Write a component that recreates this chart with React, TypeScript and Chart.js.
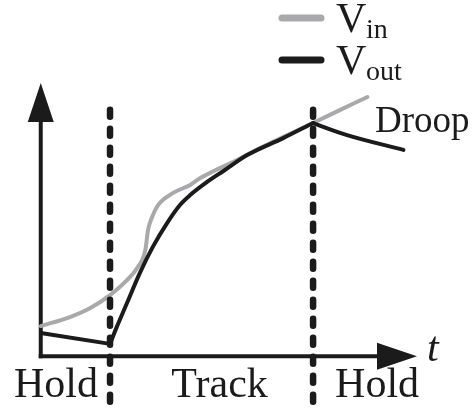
import React, { useEffect, useRef } from "react";
import { Chart, registerables } from "chart.js";

Chart.register(...registerables);

// ---- data (t in arbitrary time units, V in arbitrary volts) ----
const vinT = [0, 0.43, 0.73, 1.02, 1.27, 1.42, 1.54, 1.58, 1.64, 1.73, 1.95, 2.2, 2.35, 2.89, 3.23, 4.01, 4.41, 4.81];
const vinV = [1.1, 1.43, 1.76, 2.23, 2.78, 3.22, 3.88, 4.61, 5.08, 5.52, 5.96, 6.25, 6.5, 7.16, 7.6, 8.51, 8.99, 9.46];

const voutHoldT = [0, 1.02];
const voutHoldV = [0.85, 0.45];
const voutTrackT = [1.02, 1.12, 1.27, 1.46, 1.65, 1.86, 2.05, 2.2, 2.45, 2.69, 3.04, 3.57, 4.01];
const voutTrackV = [0.45, 1.07, 1.94, 3.04, 3.99, 4.86, 5.52, 5.88, 6.36, 6.76, 7.34, 7.96, 8.51];
const voutDroopT = [4.01, 4.16, 4.51, 5.34];
const voutDroopV = [8.51, 8.37, 8.07, 7.53];

const boundaries = [1.02, 4.01];
const boundaryTop = 8.99;
const boundaryBottom = -1.67;
const phaseLabels = ["Hold", "Track", "Hold"];
const legendMain = ["V", "V"];
const legendSub = ["in", "out"];
const timeAxisEnd = 5.54;
const voltAxisTop = 9.97;
const timeLabel = "t";
const droopLabel = "Droop";

const INK = "#1b1b1b";
const GRAY = "#a9a9ab";
const SERIF = '"Liberation Serif"';

const pts = (ts: number[], vs: number[]) => ts.map((t, i) => ({ x: t, y: vs[i] }));

const sketchPlugin = {
  id: "sketch",
  beforeDraw(chart: any) {
    const { ctx, width, height } = chart;
    ctx.save();
    ctx.fillStyle = "#ffffff";
    ctx.fillRect(0, 0, width, height);
    ctx.restore();
  },
  beforeDatasetsDraw(chart: any) {
    const { ctx, scales } = chart;
    const x = scales.x, y = scales.y;
    const x0 = x.getPixelForValue(0);
    const y0 = y.getPixelForValue(0);
    const xEnd = x.getPixelForValue(timeAxisEnd);
    const yTop = y.getPixelForValue(voltAxisTop);
    ctx.save();
    ctx.strokeStyle = INK;
    ctx.fillStyle = INK;
    ctx.lineWidth = 4;
    ctx.lineCap = "butt";
    ctx.beginPath();
    ctx.moveTo(x0, y0 + 2);
    ctx.lineTo(x0, yTop + 30);
    ctx.stroke();
    ctx.beginPath();
    ctx.moveTo(x0 - 2, y0);
    ctx.lineTo(xEnd - 30, y0);
    ctx.stroke();
    ctx.beginPath();
    ctx.moveTo(x0, yTop);
    ctx.lineTo(x0 - 13, yTop + 39);
    ctx.lineTo(x0 + 13, yTop + 39);
    ctx.closePath();
    ctx.fill();
    ctx.beginPath();
    ctx.moveTo(xEnd, y0);
    ctx.lineTo(xEnd - 40, y0 - 13.5);
    ctx.lineTo(xEnd - 40, y0 + 13.5);
    ctx.closePath();
    ctx.fill();
    ctx.restore();
  },
  afterDraw(chart: any) {
    const { ctx, scales } = chart;
    const x = scales.x, y = scales.y;
    const y0 = y.getPixelForValue(0);
    const xEnd = x.getPixelForValue(timeAxisEnd);
    const b1 = x.getPixelForValue(boundaries[0]);
    const b2 = x.getPixelForValue(boundaries[1]);
    ctx.save();
    ctx.fillStyle = INK;
    ctx.textBaseline = "alphabetic";
    // phase labels
    ctx.font = `42px ${SERIF}`;
    const base = y0 + 41;
    ctx.textAlign = "right";
    ctx.fillText(phaseLabels[0], b1 - 12, base);
    ctx.textAlign = "center";
    ctx.fillText(phaseLabels[1], (b1 + b2) / 2 + 8, base);
    ctx.textAlign = "left";
    ctx.fillText(phaseLabels[2], b2 + 22, base);
    // t label
    ctx.font = `italic 42px ${SERIF}`;
    ctx.fillText(timeLabel, xEnd + 10, y0 + 5);
    // droop label
    ctx.font = `37px ${SERIF}`;
    ctx.fillText(droopLabel, b2 + 62, y.getPixelForValue(voutDroopV[0]) + 9);
    // legend
    const colors = [GRAY, INK];
    const rows = [18, 60];
    for (let i = 0; i < legendMain.length; i++) {
      const ry = rows[i];
      ctx.strokeStyle = colors[i];
      ctx.lineWidth = 7;
      ctx.lineCap = "round";
      ctx.beginPath();
      ctx.moveTo(282, ry);
      ctx.lineTo(321, ry);
      ctx.stroke();
      ctx.font = `42px ${SERIF}`;
      ctx.textAlign = "left";
      ctx.fillText(legendMain[i], 336, ry + 14);
      ctx.font = `28px ${SERIF}`;
      ctx.fillText(legendSub[i], 366, ry + 20);
    }
    ctx.restore();
  },
};

export default function App() {
  const canvasRef = useRef<HTMLCanvasElement | null>(null);

  useEffect(() => {
    if (!canvasRef.current) return;
    const dashStyle = {
      borderColor: INK,
      borderWidth: 6.5,
      borderDash: [7, 12],
      borderCapStyle: "round" as const,
      pointRadius: 0,
      tension: 0,
      fill: false,
    };
    const chart = new Chart(canvasRef.current, {
      type: "line",
      data: {
        datasets: [
          { ...dashStyle, label: "b1", data: [{ x: boundaries[0], y: boundaryTop }, { x: boundaries[0], y: boundaryBottom }] },
          { ...dashStyle, label: "b2", data: [{ x: boundaries[1], y: boundaryTop }, { x: boundaries[1], y: boundaryBottom }] },
          { label: "Vout hold", data: pts(voutHoldT, voutHoldV), borderColor: INK, borderWidth: 4, pointRadius: 0, tension: 0, fill: false },
          { label: "Vout track", data: pts(voutTrackT, voutTrackV), borderColor: INK, borderWidth: 4, pointRadius: 0, cubicInterpolationMode: "monotone", fill: false, borderCapStyle: "round" },
          { label: "Vout droop", data: pts(voutDroopT, voutDroopV), borderColor: INK, borderWidth: 4, pointRadius: 0, cubicInterpolationMode: "monotone", fill: false, borderCapStyle: "round" },
          { label: "Vin", data: pts(vinT, vinV), borderColor: GRAY, borderWidth: 4, pointRadius: 0, cubicInterpolationMode: "monotone", fill: false, borderCapStyle: "round" },
        ],
      },
      options: {
        animation: false,
        responsive: false,
        devicePixelRatio: 1,
        layout: { padding: 0 },
        plugins: { legend: { display: false }, tooltip: { enabled: false } },
        scales: {
          x: { type: "linear", min: -0.6, max: 6.35, display: false },
          y: { type: "linear", min: -2, max: 13, display: false },
        },
      },
      plugins: [sketchPlugin],
    });
    return () => chart.destroy();
  }, []);

  return (
    <div style={{ position: "absolute", left: 0, top: 0, width: 472, height: 411, background: "#fff" }}>
      <canvas ref={canvasRef} width={472} height={411} style={{ display: "block" }} />
    </div>
  );
}
